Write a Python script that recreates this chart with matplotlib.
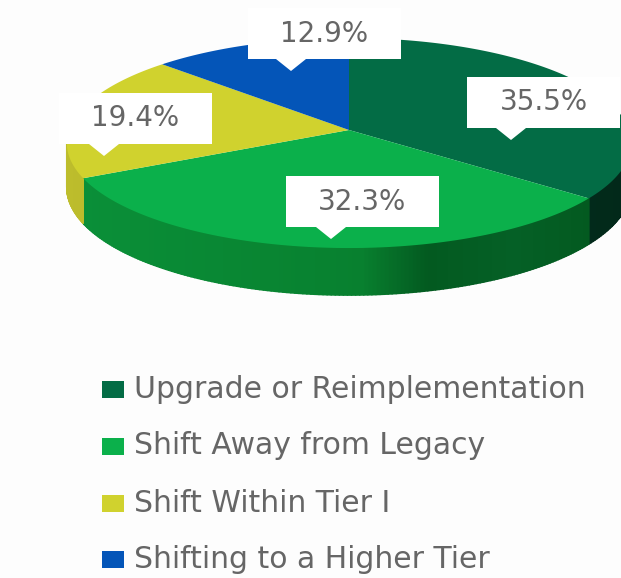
import numpy as np
import matplotlib.pyplot as plt
from matplotlib.collections import PolyCollection
from matplotlib.colors import to_rgb
from matplotlib.patches import Rectangle

plt.rcParams['font.family'] = ['DejaVu Sans']

# clockwise from 12 o'clock
categories = ['Upgrade or Reimplementation', 'Shift Away from Legacy', 'Shift Within Tier I', 'Shifting to a Higher Tier']
values = [35.5, 32.3, 19.4, 12.9]
colors = ['#036c45', '#0bb04b', '#d0d22e', '#0455b8']

# side wall colours along x, each with its place in the slice (0 to 1)
side_stops = [
    [(0, '#02452c'), (0.5, '#012d1c'), (1, '#02291a')],
    [(0, '#0a8f38'), (0.55, '#08802f'), (0.68, '#035a20'), (0.85, '#056026'), (1, '#035a20')],
    [(0, '#bdbd2c'), (1, '#b5b52a')],
    [(0, '#0455b8'), (1, '#0455b8')],
]

# label box: left, top, tip x
label_boxes = [(467, 77, 511), (286, 176, 331), (59, 93, 104), (248, 8, 291)]
box_w, box_h, tip_h = 153, 51, 12
legend_y = [389, 446, 503, 559]

# perspective circle
cx, cy = 349, 130
a, b, k = 280, 103.4, -0.124


def project(deg):
    t = np.radians(deg)
    X, Y = np.sin(t), -np.cos(t)
    w = 1 + k * Y
    return cx + a * X / w, cy + b * Y / w, Y


fig = plt.figure(figsize=(6.21, 5.78), dpi=100, facecolor='#fdfdfd')
ax = fig.add_axes([0, 0, 1, 1])
ax.set_xlim(0, 621)
ax.set_ylim(578, 0)
ax.axis('off')

edges = np.concatenate([[0], np.cumsum(values)]) / np.sum(values) * 360

# side wall first, only the front part is seen
for i in range(len(values)):
    deg = np.linspace(edges[i], edges[i + 1], 160)
    x, y, Y = project(deg)
    depth = 43.5 + 3.5 * Y
    pos = x.min() + np.array([s[0] for s in side_stops[i]]) * (x.max() - x.min())
    stops = np.array([to_rgb(s[1]) for s in side_stops[i]])
    polys, cols = [], []
    for j in range(len(deg) - 1):
        if Y[j] < -0.1:
            continue
        polys.append([(x[j], y[j]), (x[j + 1], y[j + 1]),
                      (x[j + 1], y[j + 1] + depth[j + 1]), (x[j], y[j] + depth[j])])
        xm = (x[j] + x[j + 1]) / 2
        cols.append([np.interp(xm, pos, stops[:, c]) for c in range(3)])
    ax.add_collection(PolyCollection(polys, facecolors=cols, edgecolors=cols, linewidths=1.2, zorder=1))

# top face
for i in range(len(values)):
    deg = np.linspace(edges[i], edges[i + 1], 160)
    x, y, _ = project(deg)
    ax.fill(np.r_[cx, x], np.r_[cy, y], color=colors[i], lw=0, zorder=2)

# value labels
for v, (l, t, tx) in zip(values, label_boxes):
    xs = [l, l + box_w, l + box_w, tx + 15, tx, tx - 15, l]
    ys = [t, t, t + box_h, t + box_h, t + box_h + tip_h, t + box_h, t + box_h]
    ax.fill(xs, ys, color='white', lw=0, zorder=3)
    ax.text(l + box_w / 2, t + box_h / 2, f'{v}%', ha='center', va='center',
            fontsize=20, color='#666666', zorder=4)

# legend
for name, c, y in zip(categories, colors, legend_y):
    ax.add_patch(Rectangle((102, y - 8), 22, 17, color=c, lw=0))
    ax.text(134, y, name, ha='left', va='center', fontsize=21.5, color='#666666')

fig.savefig('out.png', dpi=100, facecolor=fig.get_facecolor())
